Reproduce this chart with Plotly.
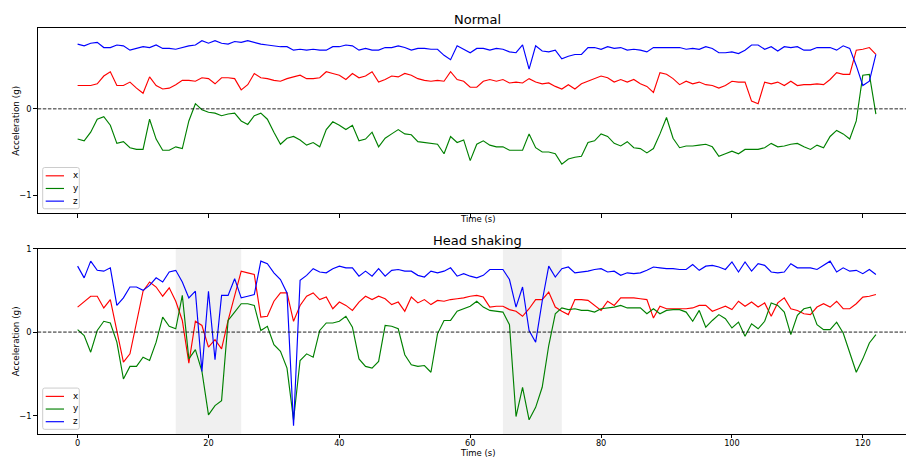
import plotly.graph_objects as go

# ---- data -----------------------------------------------------------------
time_s = list(range(123))
axis_names = ["x", "y", "z"]
axis_colors = ["#ff0000", "#008000", "#0000ff"]

normal_x = [0.27, 0.27, 0.27, 0.29, 0.38, 0.43, 0.27, 0.27, 0.31, 0.24,
            0.18, 0.37, 0.27, 0.23, 0.24, 0.28, 0.33, 0.33, 0.32, 0.36,
            0.35, 0.29, 0.36, 0.36, 0.35, 0.22, 0.28, 0.41, 0.36, 0.35,
            0.33, 0.32, 0.35, 0.37, 0.39, 0.35, 0.35, 0.36, 0.43, 0.41,
            0.39, 0.34, 0.41, 0.36, 0.38, 0.43, 0.31, 0.34, 0.38, 0.37,
            0.41, 0.39, 0.35, 0.33, 0.32, 0.33, 0.32, 0.43, 0.34, 0.32,
            0.25, 0.25, 0.32, 0.34, 0.32, 0.34, 0.30, 0.31, 0.30, 0.35,
            0.31, 0.29, 0.30, 0.26, 0.23, 0.28, 0.23, 0.29, 0.32, 0.35,
            0.38, 0.36, 0.31, 0.34, 0.31, 0.34, 0.29, 0.26, 0.19, 0.42,
            0.40, 0.35, 0.28, 0.32, 0.29, 0.31, 0.28, 0.27, 0.24, 0.27,
            0.32, 0.31, 0.31, 0.09, 0.06, 0.31, 0.29, 0.31, 0.27, 0.32,
            0.27, 0.28, 0.28, 0.29, 0.28, 0.34, 0.42, 0.40, 0.40, 0.68,
            0.69, 0.71, 0.63]
normal_y = [-0.35, -0.37, -0.27, -0.12, -0.09, -0.19, -0.40, -0.38, -0.45, -0.47,
            -0.47, -0.12, -0.35, -0.48, -0.48, -0.44, -0.46, -0.14, 0.06, -0.01,
            -0.04, -0.05, -0.08, -0.06, -0.05, -0.14, -0.18, -0.08, -0.05, -0.12,
            -0.27, -0.41, -0.34, -0.32, -0.36, -0.42, -0.39, -0.44, -0.24, -0.15,
            -0.19, -0.24, -0.19, -0.37, -0.35, -0.27, -0.44, -0.34, -0.29, -0.24,
            -0.29, -0.30, -0.38, -0.39, -0.40, -0.41, -0.52, -0.32, -0.39, -0.36,
            -0.60, -0.41, -0.37, -0.42, -0.44, -0.44, -0.48, -0.48, -0.48, -0.29,
            -0.45, -0.50, -0.50, -0.52, -0.64, -0.58, -0.56, -0.55, -0.39, -0.37,
            -0.29, -0.32, -0.40, -0.43, -0.38, -0.45, -0.46, -0.51, -0.46, -0.29,
            -0.10, -0.34, -0.45, -0.43, -0.43, -0.42, -0.41, -0.44, -0.55, -0.52,
            -0.49, -0.52, -0.47, -0.47, -0.47, -0.45, -0.40, -0.44, -0.43, -0.41,
            -0.40, -0.44, -0.47, -0.42, -0.45, -0.32, -0.25, -0.29, -0.35, -0.14,
            0.39, 0.40, -0.06]
normal_z = [0.75, 0.73, 0.76, 0.77, 0.71, 0.71, 0.74, 0.73, 0.68, 0.70,
            0.72, 0.71, 0.74, 0.70, 0.70, 0.69, 0.71, 0.73, 0.74, 0.79,
            0.76, 0.79, 0.76, 0.75, 0.78, 0.77, 0.79, 0.77, 0.75, 0.74,
            0.73, 0.72, 0.72, 0.68, 0.69, 0.68, 0.69, 0.68, 0.68, 0.72,
            0.72, 0.74, 0.73, 0.68, 0.70, 0.68, 0.68, 0.71, 0.71, 0.73,
            0.71, 0.68, 0.70, 0.70, 0.69, 0.69, 0.62, 0.57, 0.73, 0.69,
            0.65, 0.70, 0.70, 0.68, 0.70, 0.69, 0.66, 0.65, 0.74, 0.46,
            0.73, 0.67, 0.66, 0.68, 0.58, 0.61, 0.63, 0.63, 0.71, 0.71,
            0.69, 0.72, 0.70, 0.71, 0.68, 0.69, 0.68, 0.66, 0.71, 0.71,
            0.71, 0.71, 0.71, 0.69, 0.70, 0.69, 0.72, 0.70, 0.65, 0.65,
            0.66, 0.64, 0.68, 0.74, 0.74, 0.69, 0.72, 0.67, 0.72, 0.71,
            0.72, 0.68, 0.68, 0.71, 0.71, 0.71, 0.68, 0.73, 0.70, 0.50,
            0.27, 0.32, 0.63]

shaking_x = [0.30, 0.37, 0.43, 0.43, 0.29, 0.39, 0.02, -0.36, -0.26, 0.12,
             0.49, 0.60, 0.54, 0.43, 0.53, 0.37, 0.14, -0.37, 0.13, 0.08,
             -0.18, -0.09, -0.20, 0.14, 0.45, 0.73, 0.71, 0.69, 0.18, 0.19,
             0.37, 0.47, 0.47, 0.13, 0.32, 0.43, 0.47, 0.39, 0.42, 0.28,
             0.36, 0.32, 0.26, 0.36, 0.43, 0.39, 0.43, 0.40, 0.33, 0.36,
             0.25, 0.42, 0.35, 0.39, 0.33, 0.38, 0.37, 0.39, 0.40, 0.41,
             0.43, 0.44, 0.42, 0.30, 0.31, 0.31, 0.27, 0.25, 0.19, 0.28,
             0.39, 0.39, 0.48, 0.30, 0.25, 0.21, 0.39, 0.39, 0.38, 0.32,
             0.26, 0.37, 0.32, 0.41, 0.41, 0.41, 0.40, 0.39, 0.17, 0.31,
             0.28, 0.28, 0.28, 0.28, 0.29, 0.32, 0.32, 0.25, 0.28, 0.31,
             0.27, 0.37, 0.31, 0.36, 0.30, 0.35, 0.19, 0.35, 0.41, 0.28,
             0.26, 0.22, 0.21, 0.30, 0.34, 0.30, 0.37, 0.28, 0.28, 0.34,
             0.42, 0.43, 0.45]
shaking_y = [0.03, -0.04, -0.24, 0.02, 0.13, 0.11, -0.12, -0.56, -0.41, -0.41,
             -0.30, -0.34, -0.12, 0.18, 0.07, 0.04, 0.44, -0.32, -0.21, -0.47,
             -0.99, -0.88, -0.82, 0.14, 0.24, 0.34, 0.34, 0.32, 0.02, 0.07,
             -0.15, -0.23, -0.43, -1.05, -0.34, -0.26, -0.30, 0.02, 0.11, 0.11,
             0.13, 0.19, 0.06, -0.32, -0.41, -0.43, -0.35, 0.08, 0.07, 0.04,
             -0.27, -0.39, -0.41, -0.40, -0.48, -0.02, 0.14, 0.14, 0.25, 0.28,
             0.31, 0.37, 0.30, 0.26, 0.25, 0.24, 0.09, -1.01, -0.66, -1.05,
             -0.90, -0.66, -0.16, 0.22, 0.29, 0.27, 0.28, 0.26, 0.26, 0.24,
             0.28, 0.29, 0.30, 0.32, 0.29, 0.29, 0.29, 0.22, 0.28, 0.22,
             0.26, 0.27, 0.27, 0.24, 0.13, 0.26, 0.06, 0.14, 0.21, 0.16,
             0.05, 0.12, -0.05, 0.10, 0.04, 0.13, 0.35, 0.32, 0.24, -0.03,
             0.20, 0.28, 0.30, 0.09, 0.03, 0.03, 0.12, -0.01, -0.24, -0.48,
             -0.32, -0.13, -0.03]
shaking_z = [0.79, 0.65, 0.85, 0.74, 0.73, 0.77, 0.32, 0.41, 0.54, 0.54,
             0.50, 0.56, 0.65, 0.60, 0.72, 0.74, 0.60, 0.41, 0.49, -0.47,
             0.49, -0.33, 0.44, 0.44, 0.64, 0.41, 0.43, 0.45, 0.85, 0.82,
             0.71, 0.63, 0.47, -1.12, 0.62, 0.68, 0.76, 0.72, 0.71, 0.76,
             0.79, 0.77, 0.77, 0.67, 0.73, 0.67, 0.76, 0.67, 0.74, 0.75,
             0.73, 0.73, 0.68, 0.66, 0.73, 0.71, 0.73, 0.77, 0.67, 0.70,
             0.67, 0.65, 0.68, 0.75, 0.75, 0.75, 0.63, 0.30, 0.54, 0.02,
             -0.12, 0.37, 0.79, 0.66, 0.76, 0.78, 0.71, 0.72, 0.73, 0.75,
             0.76, 0.72, 0.73, 0.68, 0.71, 0.70, 0.71, 0.74, 0.78, 0.77,
             0.76, 0.76, 0.75, 0.75, 0.81, 0.74, 0.79, 0.80, 0.78, 0.75,
             0.84, 0.72, 0.84, 0.73, 0.82, 0.80, 0.72, 0.71, 0.72, 0.82,
             0.77, 0.77, 0.77, 0.75, 0.80, 0.85, 0.72, 0.77, 0.73, 0.74,
             0.70, 0.75, 0.69]

# head-shaking episodes (start, end) in seconds
shake_spans = [(15, 25), (65, 74)]

panel_titles = ["Normal", "Head shaking"]
x_label = "Time (s)"
y_label = "Acceleration (g)"
x_ticks = [0, 20, 40, 60, 80, 100, 120]

# ---- layout helpers (pixel -> paper) ---------------------------------------
W, H = 906, 458
FONT = "DejaVu Sans"


def px(x):
    return x / W


def py(y):
    return 1 - y / H


plot_left = 37.7
panels = [
    dict(top=23.3, bottom=210.7, yrange=[-1.211, 0.936], yticks=[-1, 0],
         series=[normal_x, normal_y, normal_z], zero_color="rgba(0,0,0,0.85)",
         zero_width=1.0),
    dict(top=246.3, bottom=433.7, yrange=[-1.219, 1.0], yticks=[-1, 0, 1],
         series=[shaking_x, shaking_y, shaking_z], zero_color="rgba(0,0,0,0.5)",
         zero_width=1.6),
]

fig = go.Figure()
shapes = []
annotations = []

for p_idx, panel in enumerate(panels):
    n = "" if p_idx == 0 else str(p_idx + 1)
    xref, yref = "x" + n, "y" + n

    for name, color, vals in zip(axis_names, axis_colors, panel["series"]):
        fig.add_trace(go.Scatter(
            x=time_s, y=vals, mode="lines", name=name,
            line=dict(color=color, width=1.15),
            xaxis=xref, yaxis=yref, showlegend=False, hoverinfo="skip",
        ))

    dom_y = [py(panel["bottom"]), py(panel["top"])]
    fig.layout["xaxis" + n] = dict(
        domain=[px(plot_left), 1], range=[-6.1, 126.6], anchor=yref,
        tickvals=x_ticks, ticks="outside", ticklen=3.5, tickwidth=0.8,
        tickcolor="#000", showticklabels=(p_idx == 1),
        tickfont=dict(family=FONT, size=8.2, color="#000"),
        ticklabelstandoff=-2,
        showline=True, linecolor="#000", linewidth=1, mirror=True,
        showgrid=False, zeroline=False, fixedrange=True,
    )
    fig.layout["yaxis" + n] = dict(
        domain=dom_y, range=panel["yrange"], anchor=xref,
        tickvals=panel["yticks"], ticks="outside", ticklen=3.5, tickwidth=0.8,
        tickcolor="#000", tickfont=dict(family=FONT, size=8.3, color="#000"),
        showline=True, linecolor="#000", linewidth=1, mirror=False,
        showgrid=False, zeroline=False, fixedrange=True,
    )

    # dashed reference line at zero acceleration
    shapes.append(dict(
        type="line", xref=xref + " domain", yref=yref, x0=0, x1=1, y0=0, y1=0,
        line=dict(color=panel["zero_color"], width=panel["zero_width"],
                  dash="3.5px,1.6px"), layer="above",
    ))

    # shaded head-shaking intervals
    if p_idx == 1:
        for x0, x1 in shake_spans:
            shapes.append(dict(
                type="rect", xref=xref, yref=yref + " domain", x0=x0, x1=x1,
                y0=0, y1=1, fillcolor="rgba(128,128,128,0.12)",
                line=dict(width=0), layer="below",
            ))

    # panel title and axis labels
    annotations.append(dict(
        text=panel_titles[p_idx], xref="paper", yref="paper",
        x=px(477.8), y=py(panel["top"] - 8.3), xanchor="center", yanchor="middle",
        showarrow=False, font=dict(family=FONT, size=13, color="#000"),
    ))
    annotations.append(dict(
        text=x_label, xref="paper", yref="paper",
        x=px(477.8), y=py(panel["bottom"] + (6.0 if p_idx == 0 else 19.4)),
        xanchor="center", yanchor="middle", showarrow=False,
        font=dict(family=FONT, size=8.5, color="#000"),
    ))
    annotations.append(dict(
        text=y_label, xref="paper", yref="paper", textangle=-90,
        x=px(15.7), y=py((panel["top"] + panel["bottom"]) / 2 + 0.3),
        xanchor="center", yanchor="middle", showarrow=False,
        font=dict(family=FONT, size=8.8, color="#000"),
    ))

    # legend box in the lower-left corner
    bx0, bx1 = 42.7, 79.3
    by0 = panel["bottom"] - 46.4
    by1 = panel["bottom"] - 4.7
    r = 2.0
    X = lambda v: px(v)
    Y = lambda v: py(v)
    path = (f"M {X(bx0 + r)},{Y(by0)} L {X(bx1 - r)},{Y(by0)} "
            f"Q {X(bx1)},{Y(by0)} {X(bx1)},{Y(by0 + r)} "
            f"L {X(bx1)},{Y(by1 - r)} Q {X(bx1)},{Y(by1)} {X(bx1 - r)},{Y(by1)} "
            f"L {X(bx0 + r)},{Y(by1)} Q {X(bx0)},{Y(by1)} {X(bx0)},{Y(by1 - r)} "
            f"L {X(bx0)},{Y(by0 + r)} Q {X(bx0)},{Y(by0)} {X(bx0 + r)},{Y(by0)} Z")
    shapes.append(dict(
        type="path", xref="paper", yref="paper", path=path,
        fillcolor="rgba(255,255,255,0.8)", line=dict(color="#cccccc", width=1),
        layer="above",
    ))
    for k, (name, color) in enumerate(zip(axis_names, axis_colors)):
        row_y = by0 + 8.4 + k * 12.8
        shapes.append(dict(
            type="line", xref="paper", yref="paper",
            x0=px(45.7), x1=px(64.0), y0=py(row_y), y1=py(row_y),
            line=dict(color=color, width=1.15), layer="above",
        ))
        annotations.append(dict(
            text=name, xref="paper", yref="paper", x=px(70.8), y=py(row_y - 0.6),
            xanchor="left", yanchor="middle", showarrow=False,
            font=dict(family=FONT, size=8.8, color="#000"),
        ))

fig.update_layout(
    width=W, height=H, margin=dict(l=0, r=0, t=0, b=0),
    paper_bgcolor="white", plot_bgcolor="white",
    shapes=shapes, annotations=annotations, showlegend=False,
    font=dict(family=FONT, color="#000"),
)

fig.write_html("out.html", config={"displayModeBar": False})
